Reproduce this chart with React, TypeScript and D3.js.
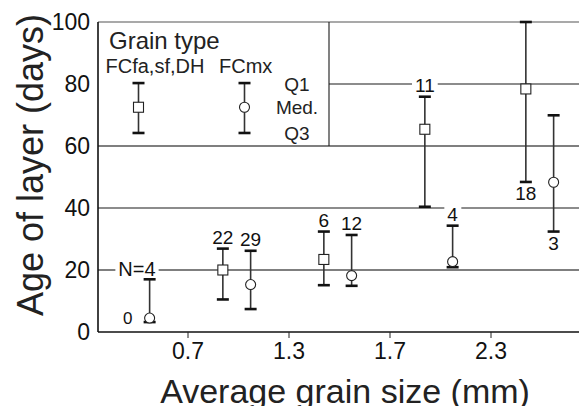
import { useEffect, useRef } from 'react'
import * as d3 from 'd3'

// grain size classes (bin boundaries shown as ticks)
const tickLabels = ['0.7', '1.3', '1.7', '2.3']
const binCount = 5
const yTicks = [0, 20, 40, 60, 80, 100]

// FCfa,sf,DH (squares)
const sqN = [0, 22, 6, 11, 18]
const sqMed = [null, 20, 23.4, 65.4, 78.4]
const sqUpper = [null, 26.9, 32.4, 75.9, 100]
const sqLower = [null, 10.5, 15.1, 40.4, 48.4]

// FCmx (circles)
const ciN = [4, 29, 12, 4, 3]
const ciMed = [4.5, 15.3, 18.2, 22.7, 48.3]
const ciUpper = [17, 26.2, 31.3, 34.3, 69.9]
const ciLower = [3.2, 7.4, 14.9, 20.9, 32.4]

// legend sample whisker
const legendBox = { upper: 80.3, med: 72.5, lower: 64.2 }

const FONT = '"Liberation Sans", Arial, Helvetica, sans-serif'

export default function App() {
  const svgRef = useRef<SVGSVGElement | null>(null)
  const width = 579
  const height = 406

  useEffect(() => {
    const el = svgRef.current
    if (!el) return
    const svg = d3.select(el)
    svg.selectAll('*').remove()

    const left = 98
    const x = d3.scaleLinear().domain([0, binCount]).range([87, 592])
    const y = d3.scaleLinear().domain([0, 100]).range([332, 22])

    const legendRight = 329

    // grid lines
    const gridColor = (v: number) => (v === 80 || v === 40 ? '#1a1a1a' : '#555')
    yTicks.filter(v => v > 0).forEach(v => {
      svg.append('line')
        .attr('x1', v === 80 ? legendRight : left)
        .attr('x2', width)
        .attr('y1', y(v)).attr('y2', y(v))
        .attr('stroke', gridColor(v))
        .attr('stroke-width', v === 60 || v === 20 ? 1.3 : 1.1)
    })
    // legend frame right edge
    svg.append('line')
      .attr('x1', legendRight).attr('x2', legendRight)
      .attr('y1', y(100)).attr('y2', y(60))
      .attr('stroke', '#1a1a1a').attr('stroke-width', 1.1)

    // axes
    svg.append('line')
      .attr('x1', left).attr('x2', left).attr('y1', y(100)).attr('y2', y(0))
      .attr('stroke', '#111').attr('stroke-width', 1.6)
    svg.append('line')
      .attr('x1', left).attr('x2', width).attr('y1', y(0)).attr('y2', y(0))
      .attr('stroke', '#111').attr('stroke-width', 1.4)

    tickLabels.forEach((t, i) => {
      const tx = x(i + 1)
      svg.append('line')
        .attr('x1', tx).attr('x2', tx).attr('y1', y(0)).attr('y2', y(0) + 6)
        .attr('stroke', '#222').attr('stroke-width', 1)
      svg.append('text')
        .attr('x', tx).attr('y', y(0) + 27)
        .attr('text-anchor', 'middle')
        .attr('font-family', FONT).attr('font-size', 23).attr('fill', '#111')
        .text(t)
    })

    yTicks.forEach(v => {
      svg.append('text')
        .attr('x', 90).attr('y', y(v))
        .attr('dy', '0.36em')
        .attr('text-anchor', 'end')
        .attr('font-family', FONT).attr('font-size', 23).attr('fill', '#111')
        .text(v)
    })

    // axis titles
    svg.append('text')
      .attr('x', 345).attr('y', 403)
      .attr('text-anchor', 'middle')
      .attr('font-family', FONT).attr('font-size', 34).attr('fill', '#222')
      .text('Average grain size (mm)')
    svg.append('text')
      .attr('transform', `translate(43,${165}) rotate(-90)`)
      .attr('text-anchor', 'middle')
      .attr('font-family', FONT).attr('font-size', 36).attr('fill', '#222')
      .text('Age of layer (days)')

    // whisker helper
    const whisker = (cx: number, hi: number, lo: number) => {
      svg.append('line')
        .attr('x1', cx).attr('x2', cx).attr('y1', y(hi)).attr('y2', y(lo))
        .attr('stroke', '#333').attr('stroke-width', 1.6)
      ;[hi, lo].forEach(v => {
        svg.append('line')
          .attr('x1', cx - 6).attr('x2', cx + 6).attr('y1', y(v)).attr('y2', y(v))
          .attr('stroke', '#111').attr('stroke-width', 2.6)
      })
    }
    const square = (cx: number, v: number) => {
      svg.append('rect')
        .attr('x', cx - 5).attr('y', y(v) - 5).attr('width', 10).attr('height', 10)
        .attr('fill', '#fff').attr('stroke', '#222').attr('stroke-width', 1.1)
    }
    const circle = (cx: number, v: number) => {
      svg.append('circle')
        .attr('cx', cx).attr('cy', y(v)).attr('r', 5)
        .attr('fill', '#fff').attr('stroke', '#222').attr('stroke-width', 1.1)
    }
    const label = (tx: number, ty: number, txt: string, anchor = 'middle', size = 19) => {
      const t = svg.append('text')
        .attr('x', tx).attr('y', ty)
        .attr('text-anchor', anchor)
        .attr('font-family', FONT).attr('font-size', size).attr('fill', '#111')
        .text(txt)
      const bb = (t.node() as SVGTextElement).getBBox()
      svg.insert('rect', 'text')
        .attr('x', bb.x - 3).attr('y', bb.y + 2)
        .attr('width', bb.width + 6).attr('height', bb.height - 4)
        .attr('fill', '#fff')
    }

    const sqOff = -0.155
    const ciOff = 0.12

    for (let i = 0; i < binCount; i++) {
      const below = i === binCount - 1
      const sx = x(i + 0.5 + sqOff)
      const cx = x(i + 0.5 + ciOff)

      const sm = sqMed[i], su = sqUpper[i], sl = sqLower[i]
      if (sm != null && su != null && sl != null) {
        whisker(sx, su, sl)
        square(sx, sm)
        if (below) label(sx, y(sl) + 18, String(sqN[i]))
        else label(sx, y(su) - 5, String(sqN[i]))
      } else {
        label(sx + 6, y(0) - 8, String(sqN[i]), 'middle', 17)
      }

      whisker(cx, ciUpper[i], ciLower[i])
      circle(cx, ciMed[i])
      if (below) label(cx, y(ciLower[i]) + 18, String(ciN[i]))
      else if (i === 0) label(cx + 6, y(ciUpper[i]) - 3, `N=${ciN[i]}`, 'end', 20)
      else label(cx, y(ciUpper[i]) - 5, String(ciN[i]))
    }

    // legend
    svg.append('text')
      .attr('x', 109).attr('y', 48.5)
      .attr('font-family', FONT).attr('font-size', 24).attr('fill', '#222')
      .text('Grain type')
    svg.append('text')
      .attr('x', 105.5).attr('y', 73)
      .attr('font-family', FONT).attr('font-size', 20).attr('fill', '#222')
      .text('FCfa,sf,DH')
    svg.append('text')
      .attr('x', 219).attr('y', 73)
      .attr('font-family', FONT).attr('font-size', 20).attr('fill', '#222')
      .text('FCmx')
    whisker(138.5, legendBox.upper, legendBox.lower)
    square(138.5, legendBox.med)
    whisker(244.5, legendBox.upper, legendBox.lower)
    circle(244.5, legendBox.med)
    ;[['Q1', 91], ['Med.', 114.3], ['Q3', 140]].forEach(([t, ty]) => {
      svg.append('text')
        .attr('x', 297).attr('y', ty as number)
        .attr('text-anchor', 'middle')
        .attr('font-family', FONT).attr('font-size', 19).attr('fill', '#222')
        .text(t as string)
    })
  }, [])

  return (
    <svg
      ref={svgRef}
      width={width}
      height={height}
      style={{ position: 'absolute', left: 0, top: 0, background: '#fff', display: 'block' }}
    />
  )
}
